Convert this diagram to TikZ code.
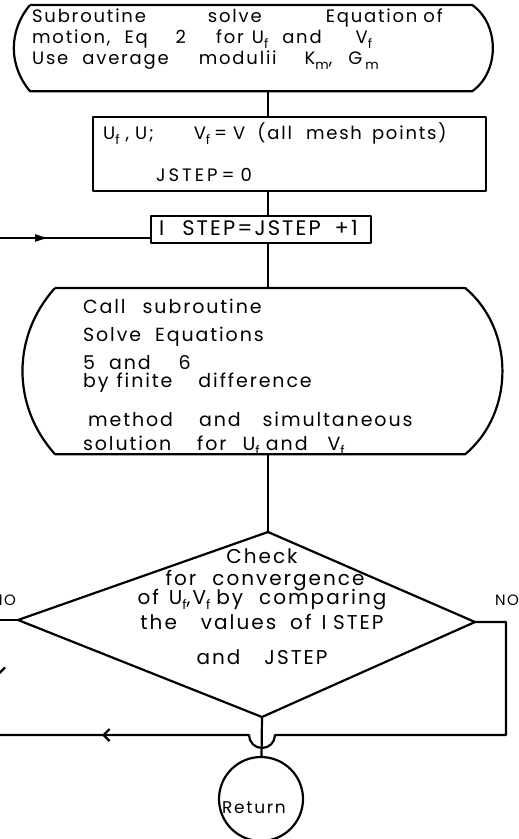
\documentclass[tikz,border=0pt]{standalone}
\usepackage{fontspec}
\setmainfont{Poppins}[LetterSpace=10]
\usetikzlibrary{arrows.meta,decorations.markings}
\newcommand{\lowsub}[1]{\raisebox{-0.5ex}{\fontsize{13}{13}\selectfont #1}}

\begin{document}
\begin{tikzpicture}[x=1pt, y=-1pt, line width=2.2pt, line join=round,
  font=\fontsize{18}{21}\selectfont,
  box/.style={draw, rectangle, anchor=north west, inner ysep=0pt, align=left},
  barrel/.style={rectangle, anchor=north west, inner ysep=0pt, align=left},
  tipat/.style={postaction={decorate}, decoration={markings,
    mark=at position #1 with {\arrow{Latex[length=15pt,width=8pt]}}}},
  barbat/.style={postaction={decorate}, decoration={markings,
    mark=at position #1 with {\arrow{Straight Barb[length=6pt,width=12pt]}}}}]
  \useasboundingbox (0,0) rectangle (519,839);
  \coordinate (axis) at (268,0);
  \node (start) [barrel, inner xsep=1pt, text width=438pt, text height=16pt, text depth=68pt] at (30,5)
    {Subroutine\hspace{62pt}solve\hspace{64pt}Equation of\\
     motion,\hspace{14pt}Eq\hspace{28pt}2\hspace{30pt}for\hspace{8pt}U\lowsub{f}\hspace{14pt}and\hspace{34pt}V\lowsub{f}\\
     Use\hspace{14pt}average\hspace{30pt}modulii\hspace{28pt}K\lowsub{m},\hspace{16pt}G\,\lowsub{m}};
  \draw (start.north west) -- (start.north east) to[bend left=55] (start.south east)
    -- (start.south west) to[bend left=40] (start.north west);
  \node (init) [box, inner xsep=10pt, text width=373pt, text height=22pt, text depth=52pt] at (92,116)
    {U\lowsub{f}\hspace{6pt}, U;\hspace{40pt}V\lowsub{f}\hspace{4pt}=\hspace{6pt}V\hspace{12pt}(all\hspace{14pt}mesh\hspace{10pt}points)\\[21pt]
     \hspace*{53pt}J\,S\,T\,E\,P\hspace{4pt}=\hspace{6pt}0};
  \node (istep) [box, inner xsep=8pt, text width=204pt, text height=19pt, text depth=8pt,
    font=\fontsize{21}{21}\selectfont] at (150,215)
    {I\hspace{18pt}STEP=JSTEP\hspace{14pt}+1};
  \node (call) [barrel, inner xsep=27pt, text width=354pt, text height=24pt, text depth=140pt,
    font=\fontsize{19}{20}\selectfont] at (55,288)
    {Call\hspace{17pt}subroutine\\[8pt]
     Solve\hspace{14pt}Equations\\[8pt]
     5\hspace{14pt}and\hspace{28pt}6\\[-2pt]
     by\hspace{8pt}finite\hspace{26pt}difference\\[19pt]
     \hspace*{5pt}method\hspace{26pt}and\hspace{22pt}simultaneous\\[4pt]
     solution\hspace{26pt}for\hspace{16pt}U\lowsub{f} and\hspace{20pt}V\lowsub{f}};
  \draw (call.north west) -- (call.north east) to[bend left=50] (call.south east)
    -- (call.south west) to[bend left=42] (call.north west);
  \coordinate (chkT) at (268,532);
  \coordinate (chkL) at (18,620);
  \coordinate (chkR) at (475,622);
  \coordinate (chkB) at (262,717);
  \draw (chkT) -- (chkR) -- (chkB) -- (chkL) -- cycle;
  \node (check) [anchor=north, inner sep=0pt, text width=340pt, align=center, text height=15pt,
    font=\fontsize{20}{21}\selectfont] at (262,547)
    {Check\\[1pt]
     \hspace*{6pt}for\hspace{16pt}convergence\\[-2pt]
     of\hspace{10pt}U\lowsub{f},V\lowsub{f}\hspace{6pt}by\hspace{16pt}comparing\\[4pt]
     the\hspace{24pt}values\hspace{14pt}of\hspace{10pt}I STEP\\[14pt]
     and\hspace{24pt}JSTEP};
  \node (noL) [font=\fontsize{15}{15}\selectfont] at (4,600) {NO};
  \node (noR) [anchor=west, inner sep=0pt, font=\fontsize{15}{15}\selectfont] at (494,600) {NO};
  \node (ret) [circle, draw, minimum size=84pt, inner sep=0pt, text height=28pt, text depth=0pt,
    font=\fontsize{17}{17}\selectfont] at (261,799)
    {Return\hspace*{14pt}};
  \coordinate (feed) at (0,238);
  \coordinate (loopR) at (506,735);
  \coordinate (loopL) at (-1,735);
  \coordinate (hop) at (chkB |- loopR);
  \draw (axis |- start.south) -- (axis |- init.north);
  \draw (axis |- init.south) -- (axis |- istep.north);
  \draw (axis |- istep.south) -- (axis |- call.north);
  \draw (axis |- call.south) -- (chkT);
  \draw (chkB) -- (ret);
  \draw [tipat=50pt] (feed) -- (feed -| istep.west);
  \draw [barbat=-103pt] (chkR) -| (loopR) -- ([xshift=13pt]hop)
    arc[start angle=0, end angle=-180, radius=13pt] -- (loopL);
  \draw [barbat=74pt] (chkL) -| (loopL);
\end{tikzpicture}
\end{document}
